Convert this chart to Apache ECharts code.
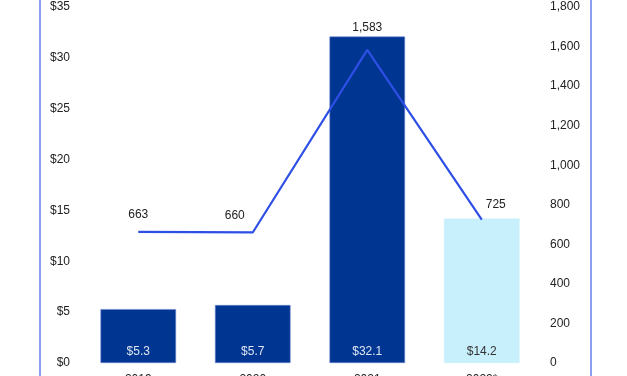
<!DOCTYPE html>
<html>
<head>
<meta charset="utf-8">
<script src="https://cdn.jsdelivr.net/npm/echarts@6/dist/echarts.min.js"></script>
<style>html,body{margin:0;padding:0;background:#fff}#c{width:627px;height:376px}</style>
</head>
<body>
<div id="c"></div>
<script>
const categories = ['2019', '2020', '2021', '2022*'];
const barValues = [5.3, 5.7, 32.1, 14.2];
const lineValues = [663, 660, 1583, 725];
const leftTicks = { min: 0, max: 35, interval: 5 };
const rightTicks = { min: 0, max: 1800, interval: 200 };

const barColors = ['#003591', '#003591', '#003591', '#c8f0fc'];
const barLabelColors = ['#dde4f2', '#dde4f2', '#dde4f2', '#333333'];
const lineLabelOffsets = [[0, -1], [-18, -1], [0, -6], [14, 1]];

const chart = echarts.init(document.getElementById('c'));
const font = 'Liberation Sans, Arial, sans-serif';
chart.setOption({
  animation: false,
  textStyle: { fontFamily: font },
  graphic: [
    { type: 'line', shape: { x1: 40, y1: 0, x2: 40, y2: 376 }, style: { stroke: '#8c9ef0', lineWidth: 2 } },
    { type: 'line', shape: { x1: 591, y1: 0, x2: 591, y2: 376 }, style: { stroke: '#8c9ef0', lineWidth: 2 } }
  ],
  grid: { left: 81, right: 88, top: 7, bottom: 13, containLabel: false, outerBoundsMode: 'none' },
  xAxis: {
    type: 'category',
    data: categories,
    axisLine: { show: false },
    axisTick: { show: false },
    axisLabel: { color: '#222', fontSize: 12, margin: 11, fontFamily: font }
  },
  yAxis: [
    {
      type: 'value', min: leftTicks.min, max: leftTicks.max, interval: leftTicks.interval,
      splitLine: { show: false }, axisLine: { show: false }, axisTick: { show: false },
      axisLabel: { color: '#222', fontSize: 12, margin: 11, formatter: v => '$' + v, fontFamily: font }
    },
    {
      type: 'value', min: rightTicks.min, max: rightTicks.max, interval: rightTicks.interval,
      position: 'right',
      splitLine: { show: false }, axisLine: { show: false }, axisTick: { show: false },
      axisLabel: { color: '#222', fontSize: 12, margin: 11, formatter: v => v.toLocaleString('en-US'), fontFamily: font }
    }
  ],
  series: [
    {
      type: 'bar',
      yAxisIndex: 0,
      barWidth: '66%',
      data: barValues.map((v, i) => ({
        value: v,
        itemStyle: { color: barColors[i], borderColor: i < 3 ? '#6f86d6' : '#c8f0fc', borderWidth: 0.6 },
        label: { color: barLabelColors[i] }
      })),
      label: {
        show: true, position: 'insideBottom', distance: 5, fontSize: 12, fontFamily: font,
        formatter: p => '$' + p.value.toFixed(1)
      }
    },
    {
      type: 'line',
      yAxisIndex: 1,
      symbol: 'circle',
      symbolSize: 0,
      showSymbol: true,
      lineStyle: { color: '#2e4fe6', width: 2.2 },
      itemStyle: { color: '#2e4fe6' },
      data: lineValues.map((v, i) => ({
        value: v,
        label: { offset: lineLabelOffsets[i] }
      })),
      label: {
        show: true, position: 'top', distance: 10, color: '#222', fontSize: 12, fontFamily: font,
        formatter: p => p.value.toLocaleString('en-US')
      }
    }
  ]
});
</script>
</body>
</html>
